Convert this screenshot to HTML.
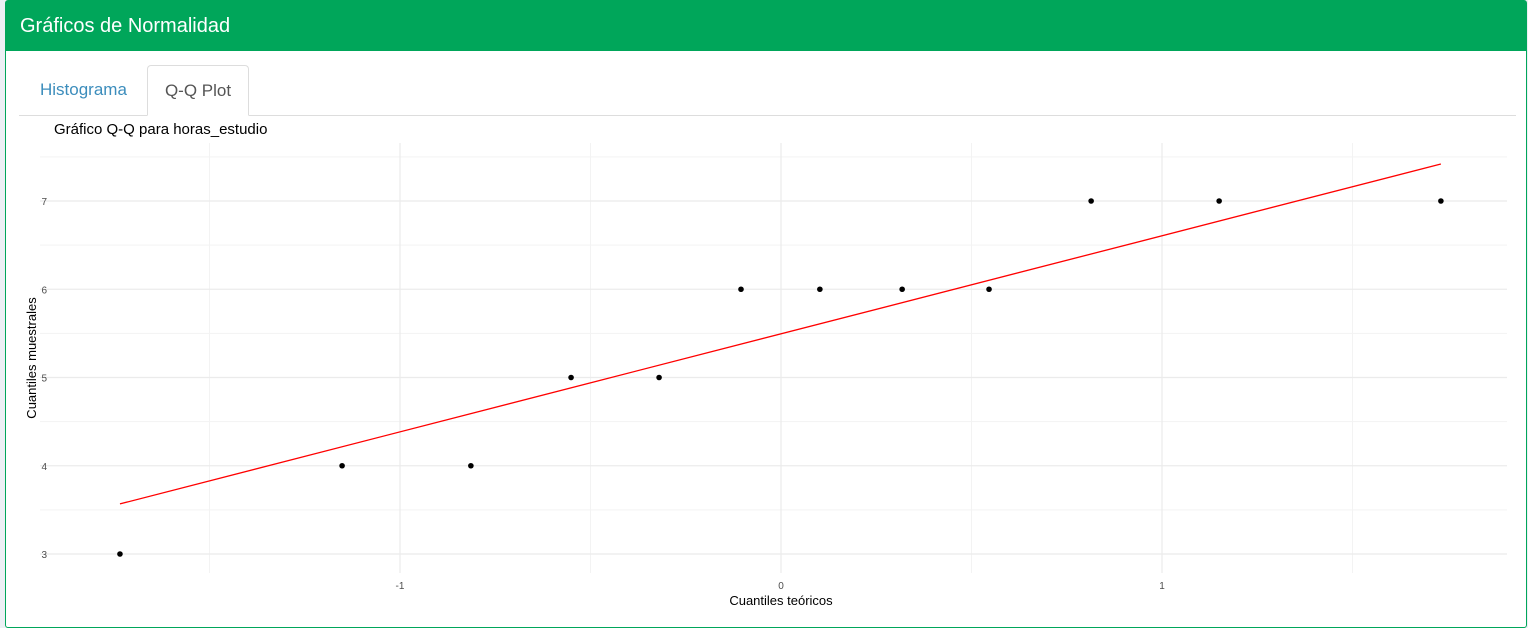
<!DOCTYPE html>
<html><head><meta charset="utf-8"><style>
body{margin:0;width:1528px;height:628px;background:#ecf0f5;font-family:"Liberation Sans",sans-serif;overflow:hidden;position:relative}
.card{position:absolute;left:5px;top:0;width:1520px;height:626px;background:#fff;border:1px solid #00a65a;border-radius:3px}
.hdr{position:absolute;left:0;top:0;width:1520px;height:50px;background:#00a65a;color:#fff;font-size:20px;line-height:50px;padding-left:14px;box-sizing:border-box}
.tab{position:absolute;top:64px;height:50px;line-height:50px;font-size:17px;box-sizing:border-box}
.line{position:absolute;left:13px;top:114px;width:1497px;height:1px;background:#ddd}
</style></head><body>
<div class="card">
<div class="hdr">Gráficos de Normalidad</div>
<div class="line"></div>
<div class="tab" style="left:34px;color:#3c8dbc">Histograma</div>
<div class="tab" style="left:141px;width:102px;text-align:center;color:#555;background:#fff;border:1px solid #ddd;border-bottom:1px solid #fff;border-radius:4px 4px 0 0;height:51px">Q-Q Plot</div>
</div>
<svg id="chart" width="1528" height="628" style="position:absolute;left:0;top:0"></svg>
<script>
const theoretical=[-1.735,-1.152,-0.814,-0.551,-0.320,-0.105,0.102,0.318,0.546,0.814,1.150,1.732];
const sample=[3,4,4,5,5,6,6,6,6,7,7,7];
const xTicks=[-1,0,1];
const yTicks=[3,4,5,6,7];
const lineIntercept=[5.495];
const lineSlope=[1.111];
const NS="http://www.w3.org/2000/svg";
const svg=document.getElementById('chart');
const X=v=>781+v*381;
const Y=v=>554-(v-3)*88.25;
function mk(t,a,txt){const e=document.createElementNS(NS,t);for(const k in a)e.setAttribute(k,a[k]);if(txt!==undefined)e.textContent=txt;svg.appendChild(e);return e;}
const L=40,R=1507,T=143,B=573;
for(let v=-1.5;v<=1.5;v+=1){const g=mk('line',{x1:X(v),x2:X(v),y1:T,y2:B,stroke:'#f3f3f3','stroke-width':1});

}
for(let v=2.5;v<=7.5;v+=1){if(Y(v)<T||Y(v)>B)continue;const g=mk('line',{x1:L,x2:R,y1:Y(v),y2:Y(v),stroke:'#f3f3f3','stroke-width':1});

}
xTicks.forEach(v=>{const g=mk('line',{x1:X(v),x2:X(v),y1:T,y2:B,stroke:'#ebebeb','stroke-width':1.2});


const t=mk('text',{x:X(v),y:589,'text-anchor':'middle','font-size':10,fill:'#4d4d4d'},v);

});
yTicks.forEach(v=>{const g=mk('line',{x1:L,x2:R,y1:Y(v),y2:Y(v),stroke:'#ebebeb','stroke-width':1.2});


const t=mk('text',{x:47,y:Y(v)+4,'text-anchor':'end','font-size':10,fill:'#4d4d4d'},v);

});
const x0=theoretical[0],x1=theoretical[theoretical.length-1];
const rl=mk('line',{x1:X(x0),y1:Y(lineIntercept[0]+lineSlope[0]*x0),x2:X(x1),y2:Y(lineIntercept[0]+lineSlope[0]*x1),stroke:'#ff0000','stroke-width':1.3});


theoretical.forEach((v,i)=>{const c=mk('circle',{cx:X(v),cy:Y(sample[i]),r:2.8,fill:'#000'});

});
const ti=mk('text',{x:54,y:134,'font-size':15,fill:'#000'},'Gráfico Q-Q para horas_estudio');


const xt=mk('text',{x:781,y:605,'text-anchor':'middle','font-size':13,fill:'#000'},'Cuantiles teóricos');


const yt=mk('text',{x:0,y:0,'text-anchor':'middle','font-size':13,fill:'#000',transform:'translate(36,358) rotate(-90)'},'Cuantiles muestrales');


</script>
</body></html>
